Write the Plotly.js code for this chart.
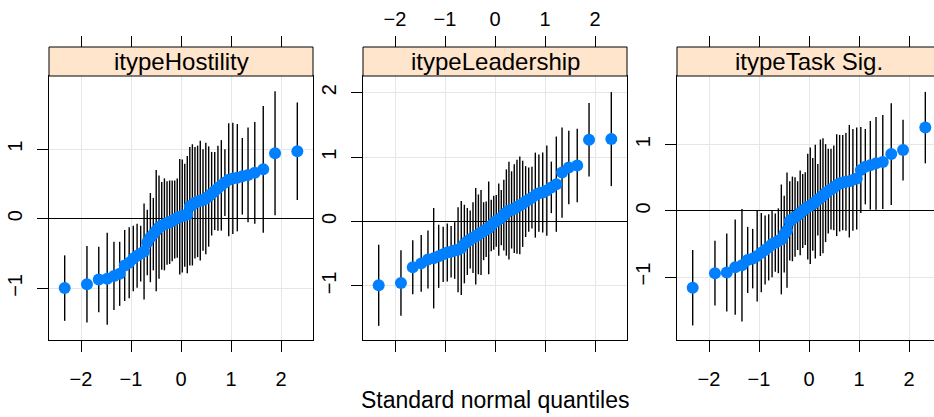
<!DOCTYPE html>
<html>
<head>
<meta charset="utf-8">
<script src="https://cdn.plot.ly/plotly-3.0.1.min.js"></script>
<style>
html,body{margin:0;padding:0;overflow:hidden;background:#fff;}
#chart{width:960px;height:417px;}
</style>
</head>
<body>
<div id="chart"></div>
<script>
// Standard normal quantiles for 50 groups
const quantiles = [-2.3263,-1.8808,-1.6449,-1.4758,-1.3408,-1.2265,-1.1264,-1.0364,-0.9542,-0.8779,
  -0.8064,-0.7388,-0.6745,-0.6128,-0.5534,-0.4959,-0.4399,-0.3853,-0.3319,-0.2793,
  -0.2275,-0.1764,-0.1257,-0.0753,-0.0251,0.0251,0.0753,0.1257,0.1764,0.2275,
  0.2793,0.3319,0.3853,0.4399,0.4959,0.5534,0.6128,0.6745,0.7388,0.8064,
  0.8779,0.9542,1.0364,1.1264,1.2265,1.3408,1.4758,1.6449,1.8808,2.3263];

const panelNames = ["itypeHostility", "itypeLeadership", "itypeTask Sig."];

const hostility = [-0.995,-0.94,-0.87,-0.86,-0.82,-0.79,-0.67,-0.63,-0.57,-0.53,
  -0.50,-0.47,-0.34,-0.27,-0.22,-0.17,-0.12,-0.10,-0.08,-0.06,
  -0.05,-0.03,-0.01,0.01,0.03,0.04,0.05,0.06,0.18,0.20,
  0.23,0.25,0.26,0.27,0.29,0.32,0.36,0.40,0.44,0.48,
  0.52,0.56,0.58,0.59,0.61,0.63,0.66,0.71,0.94,0.97];
const hostilityHW = [0.47,0.55,0.47,0.66,0.49,0.46,0.51,0.51,0.47,0.46,
  0.40,0.69,0.47,0.64,0.52,0.87,0.74,0.63,0.66,0.60,
  0.60,0.58,0.56,0.57,0.83,0.81,0.74,0.84,0.85,0.87,
  0.80,0.80,0.86,0.73,0.80,0.72,0.60,0.56,0.61,0.65,
  0.48,0.81,0.80,0.77,0.55,0.68,0.73,0.91,0.89,0.70];

const leadership = [-0.99,-0.955,-0.71,-0.65,-0.59,-0.57,-0.54,-0.51,-0.48,-0.47,
  -0.45,-0.44,-0.41,-0.35,-0.31,-0.28,-0.25,-0.23,-0.20,-0.17,
  -0.15,-0.12,-0.10,-0.06,-0.02,0.01,0.03,0.06,0.10,0.14,
  0.17,0.18,0.20,0.23,0.25,0.275,0.31,0.34,0.37,0.41,
  0.44,0.45,0.48,0.53,0.58,0.76,0.84,0.87,1.27,1.28];
const leadershipHW = [0.63,0.51,0.42,0.44,0.45,0.78,0.49,0.43,0.45,0.40,
  0.44,0.66,0.73,0.61,0.52,0.45,0.55,0.75,0.62,0.66,
  0.45,0.43,0.72,0.40,0.42,0.40,0.56,0.43,0.55,0.67,
  0.76,0.60,0.69,0.73,0.76,0.67,0.55,0.50,0.48,0.66,
  0.60,0.62,0.70,0.40,0.74,0.70,0.57,0.57,0.57,0.73];

const taskSig = [-1.16,-0.94,-0.93,-0.85,-0.82,-0.74,-0.72,-0.68,-0.63,-0.59,
  -0.55,-0.50,-0.48,-0.45,-0.43,-0.35,-0.29,-0.15,-0.12,-0.09,
  -0.07,-0.03,0.00,0.035,0.065,0.08,0.10,0.14,0.17,0.20,
  0.23,0.27,0.30,0.33,0.35,0.39,0.42,0.43,0.44,0.45,
  0.47,0.49,0.62,0.67,0.69,0.72,0.74,0.86,0.92,1.26];
const taskSigHW = [0.57,0.49,0.59,0.72,0.85,0.50,0.45,0.69,0.60,0.52,
  0.50,0.50,0.44,0.49,0.83,0.58,0.87,0.60,0.64,0.60,
  0.52,0.64,0.56,0.55,0.80,0.88,0.70,0.86,0.54,0.88,
  0.87,0.74,0.64,0.61,0.64,0.77,0.73,0.72,0.74,0.85,
  0.77,0.77,0.65,0.57,0.67,0.70,0.71,0.77,0.46,0.54];

const xTicks = [-2,-1,0,1,2];
const yTicks = [[-1,0,1],[-1,0,1,2],[-1,0,1]];
const xTitle = "Standard normal quantiles";

// ---- layout geometry (pixels in a 960x417 canvas, clipped to 934 by window)
const W = 960, H = 417;
const panelPx = [[49,313],[363,627],[677,941]];
const plotTop = 76, plotBottom = 340, stripTop = 47;
const yRanges = [[-1.74,2.05],[-1.84,2.26],[-1.95,2.04]];
const xRange = [-2.64,2.64];

const FONT = '"Liberation Sans", Arial, Helvetica, sans-serif';
const series = [[hostility,hostilityHW],[leadership,leadershipHW],[taskSig,taskSigHW]];

const yDom = [(H-plotBottom)/H, (H-plotTop)/H];
const stripY = [(H-plotTop)/H, (H-stripTop)/H];

const traces = [];
const layout = {
  width: W, height: H,
  margin: {l:0,r:0,t:0,b:0,pad:0},
  paper_bgcolor: '#fff', plot_bgcolor: '#fff',
  showlegend: false,
  font: {family: FONT, color: '#000', size: 20},
  shapes: [], annotations: []
};

for (let i = 0; i < 3; i++) {
  const n = i + 1, sfx = n === 1 ? '' : String(n);
  const topN = n + 3;
  const dom = [panelPx[i][0]/W, panelPx[i][1]/W];
  traces.push({
    type: 'scatter', mode: 'markers',
    x: quantiles, y: series[i][0],
    xaxis: 'x' + sfx, yaxis: 'y' + sfx,
    marker: {color: '#0080ff', size: 12, line: {width: 0}},
    error_y: {type: 'data', symmetric: true, array: series[i][1], width: 0, thickness: 1.4, color: '#000'},
    hoverinfo: 'skip'
  });
  // invisible companion trace on the top axis
  traces.push({
    type: 'scatter', mode: 'markers',
    x: quantiles, y: series[i][0],
    xaxis: 'x' + topN, yaxis: 'y' + sfx,
    marker: {opacity: 0, size: 1}, hoverinfo: 'skip'
  });
  const labelsBottom = (i !== 1);
  layout['xaxis' + sfx] = {
    domain: dom, range: xRange, anchor: 'y' + sfx,
    tickvals: xTicks, ticks: 'outside', ticklen: 11, tickwidth: 1, tickcolor: '#000',
    showline: true, mirror: true, linecolor: '#000', linewidth: 1,
    showgrid: true, gridcolor: '#e6e6e6', gridwidth: 1, zeroline: false,
    showticklabels: labelsBottom, ticklabelstandoff: 10,
    tickfont: {size: 20, family: FONT}
  };
  layout['xaxis' + topN] = {
    domain: dom, range: xRange, overlaying: 'x' + sfx, anchor: 'free',
    position: stripY[1], side: 'top',
    tickvals: xTicks, ticks: 'outside', ticklen: 11, tickwidth: 1, tickcolor: '#000',
    showline: false, showgrid: false, zeroline: false,
    showticklabels: !labelsBottom, ticklabelstandoff: 2,
    tickfont: {size: 20, family: FONT}
  };
  layout['yaxis' + sfx] = {
    domain: yDom, range: yRanges[i], anchor: 'x' + sfx,
    tickvals: yTicks[i], tickangle: -90,
    ticks: 'outside', ticklen: 11, tickwidth: 1, tickcolor: '#000',
    showline: true, mirror: true, linecolor: '#000', linewidth: 1,
    showgrid: true, gridcolor: '#e6e6e6', gridwidth: 1,
    zeroline: true, zerolinecolor: '#000', zerolinewidth: 1,
    ticklabelstandoff: 7,
    tickfont: {size: 20, family: FONT}
  };
  layout.shapes.push({
    type: 'rect', xref: 'paper', yref: 'paper',
    x0: dom[0], x1: dom[1], y0: stripY[0], y1: stripY[1],
    fillcolor: '#ffe5cc', line: {color: '#000', width: 1}
  });
  layout.annotations.push({
    xref: 'paper', yref: 'paper', x: (dom[0]+dom[1])/2, y: (stripY[0]+stripY[1])/2,
    xanchor: 'center', yanchor: 'middle', showarrow: false,
    text: panelNames[i], font: {size: 24, family: FONT, color: '#000'}
  });
}
layout.annotations.push({
  xref: 'paper', yref: 'paper', x: (panelPx[1][0]+panelPx[1][1])/2/W, y: 2/H,
  xanchor: 'center', yanchor: 'bottom', showarrow: false,
  text: xTitle, font: {size: 23, family: FONT, color: '#000'}
});

Plotly.newPlot('chart', traces, layout, {displayModeBar: false, staticPlot: true});
</script>
</body>
</html>
